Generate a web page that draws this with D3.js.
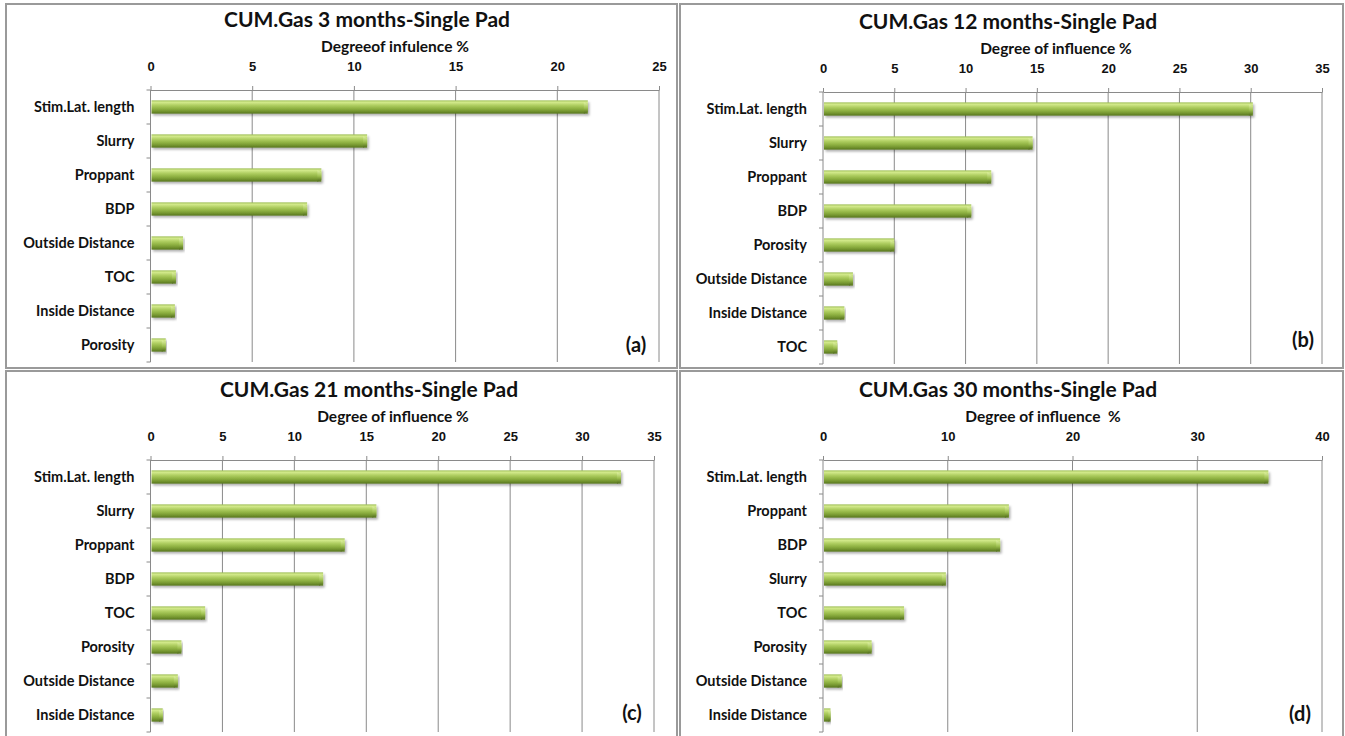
<!DOCTYPE html>
<html>
<head>
<meta charset="utf-8">
<script src="https://cdn.jsdelivr.net/npm/d3@7"></script>
<style>
  html, body { margin: 0; padding: 0; background: #fff; }
  svg { display: block; font-family: Lato, "Open Sans", sans-serif; }
  .ttl { font-size: 21px; font-weight: 700; fill: #111; }
  .axt { font-size: 15.5px; font-weight: 700; fill: #111; white-space: pre; }
  .tick text { font-size: 13px; font-weight: 700; fill: #111; }
  .cat { font-size: 14.5px; font-weight: 700; fill: #111; }
  .tag { font-size: 20px; font-weight: 700; fill: #111; }
</style>
</head>
<body>
<svg id="chart" width="1345" height="736"></svg>
<script>
/* ── Data ─────────────────────────────────────────────────────────── */
const titles = [
  'CUM.Gas 3 months-Single Pad',
  'CUM.Gas 12 months-Single Pad',
  'CUM.Gas 21 months-Single Pad',
  'CUM.Gas 30 months-Single Pad'
];
const axisTitles = [
  'Degreeof infulence %',
  'Degree of influence %',
  'Degree of influence %',
  'Degree of influence  %'
];
const tags = ['(a)', '(b)', '(c)', '(d)'];

const catsA = ['Stim.Lat. length', 'Slurry', 'Proppant', 'BDP', 'Outside Distance', 'TOC', 'Inside Distance', 'Porosity'];
const valsA = [21.5, 10.65, 8.4, 7.7, 1.6, 1.25, 1.2, 0.75];

const catsB = ['Stim.Lat. length', 'Slurry', 'Proppant', 'BDP', 'Porosity', 'Outside Distance', 'Inside Distance', 'TOC'];
const valsB = [30.15, 14.7, 11.8, 10.4, 5.0, 2.1, 1.5, 1.0];

const catsC = ['Stim.Lat. length', 'Slurry', 'Proppant', 'BDP', 'TOC', 'Porosity', 'Outside Distance', 'Inside Distance'];
const valsC = [32.7, 15.7, 13.5, 12.0, 3.8, 2.15, 1.9, 0.85];

const catsD = ['Stim.Lat. length', 'Proppant', 'BDP', 'Slurry', 'TOC', 'Porosity', 'Outside Distance', 'Inside Distance'];
const valsD = [35.7, 14.9, 14.2, 9.85, 6.5, 3.9, 1.5, 0.6];

const maxA = [25, 35, 35, 40];
const stepA = [5, 5, 5, 10];

/* ── Layout ───────────────────────────────────────────────────────── */
const panels = [
  { frame: [6, 4, 671, 364],   plot: [150.5, 90, 508.5, 272], titleX: 367,  axTX: 395,  tag: [636, 352] },
  { frame: [680, 4, 663, 364], plot: [823, 92, 499, 272],     titleX: 1008, axTX: 1056, tag: [1303, 347] },
  { frame: [6, 371, 671, 372], plot: [150.5, 460, 503.5, 272], titleX: 369, axTX: 393,  tag: [632, 720] },
  { frame: [680, 371, 663, 372], plot: [823, 460, 499, 272],  titleX: 1008, axTX: 1043, tag: [1300, 721] }
];
const cats = [catsA, catsB, catsC, catsD];
const vals = [valsA, valsB, valsC, valsD];

const svg = d3.select('#chart');

// Bar gradient (Excel-style bevelled bar)
const defs = svg.append('defs');
const grad = defs.append('linearGradient').attr('id', 'barGrad')
  .attr('x1', 0).attr('y1', 0).attr('x2', 0).attr('y2', 1);
[['0%', '#9cbc55'], ['14%', '#d3ea8c'], ['38%', '#aecd60'], ['65%', '#8bae3f'], ['88%', '#6b8b29'], ['100%', '#55721d']]
  .forEach(([o, c]) => grad.append('stop').attr('offset', o).attr('stop-color', c));
const capGrad = defs.append('linearGradient').attr('id', 'capGrad')
  .attr('x1', 0).attr('y1', 0).attr('x2', 0).attr('y2', 1);
[['0%', '#e0f1a6'], ['50%', '#a2c454'], ['100%', '#4b6619']]
  .forEach(([o, c]) => capGrad.append('stop').attr('offset', o).attr('stop-color', c));
const shadow = defs.append('filter').attr('id', 'shadow').attr('x', '-5%').attr('y', '-30%').attr('width', '110%').attr('height', '180%');
shadow.append('feDropShadow').attr('dx', 1.5).attr('dy', 2).attr('stdDeviation', 1.2)
  .attr('flood-color', '#000').attr('flood-opacity', 0.3);

panels.forEach((p, i) => {
  const [fx, fy, fw, fh] = p.frame;
  const [px, py, pw, ph] = p.plot;

  svg.append('rect')
    .attr('x', fx).attr('y', fy).attr('width', fw).attr('height', fh)
    .attr('fill', '#fff').attr('stroke', '#9a9a9a').attr('stroke-width', 2);

  svg.append('text').attr('class', 'ttl')
    .attr('x', p.titleX).attr('y', py - 63).attr('text-anchor', 'middle')
    .text(titles[i]);

  svg.append('text').attr('class', 'axt')
    .attr('x', p.axTX).attr('y', py - 38).attr('text-anchor', 'middle')
    .text(axisTitles[i]);

  const x = d3.scaleLinear().domain([0, maxA[i]]).range([0, pw]);
  const y = d3.scaleBand().domain(cats[i]).range([0, ph]).paddingInner(0.61).paddingOuter(0.305);
  const tickVals = d3.range(0, maxA[i] + 0.001, stepA[i]);

  const g = svg.append('g').attr('transform', `translate(${px},${py})`);

  // grid
  g.append('g').selectAll('line').data(tickVals.slice(1)).join('line')
    .attr('x1', d => x(d)).attr('x2', d => x(d))
    .attr('y1', 0).attr('y2', ph)
    .attr('stroke', '#8a8a8a').attr('stroke-width', 1);

  // top axis
  const ax = g.append('g')
    .call(d3.axisTop(x).tickValues(tickVals).tickSize(4).tickPadding(15).tickSizeOuter(0));
  ax.select('.domain').attr('stroke', '#8a8a8a');
  ax.selectAll('.tick line').attr('stroke', '#8a8a8a');

  // left axis line + ticks on band boundaries
  g.append('line').attr('x1', 0).attr('x2', 0).attr('y1', 0).attr('y2', ph)
    .attr('stroke', '#8a8a8a');
  const step = y.step();
  g.append('g').selectAll('line').data(d3.range(cats[i].length + 1)).join('line')
    .attr('x1', -4).attr('x2', 0)
    .attr('y1', k => k * step).attr('y2', k => k * step)
    .attr('stroke', '#8a8a8a');

  // category labels
  g.append('g').selectAll('text').data(cats[i]).join('text')
    .attr('class', 'cat')
    .attr('x', -16).attr('y', d => y(d) + y.bandwidth() / 2)
    .attr('dy', '0.35em').attr('text-anchor', 'end')
    .text(d => d);

  // bars
  const data = cats[i].map((c, k) => ({ c, v: vals[i][k] }));
  const bars = g.append('g').selectAll('g').data(data).join('g')
    .attr('filter', 'url(#shadow)');
  bars.append('rect')
    .attr('x', 1).attr('y', d => y(d.c))
    .attr('width', d => Math.max(0, x(d.v) - 1))
    .attr('height', y.bandwidth())
    .attr('fill', 'url(#barGrad)');
  // bevelled end cap
  bars.append('path')
    .attr('d', d => {
      const xe = x(d.v), y0 = y(d.c), h = y.bandwidth(), b = Math.min(4, (x(d.v) - 1) / 3);
      return `M${xe - b},${y0 + 2}L${xe},${y0 + 4}L${xe},${y0 + h - 2}L${xe - b},${y0 + h}Z`;
    })
    .attr('fill', 'url(#capGrad)').attr('opacity', 0.85);

  svg.append('text').attr('class', 'tag')
    .attr('x', p.tag[0]).attr('y', p.tag[1]).attr('text-anchor', 'middle')
    .text(tags[i]);
});
</script>
</body>
</html>
